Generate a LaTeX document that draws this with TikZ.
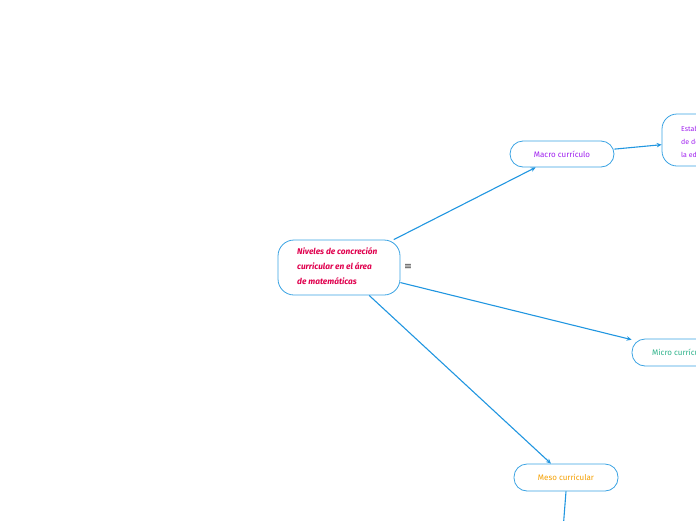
\documentclass[tikz,border=0pt]{standalone}
\usepackage{fontspec}
\setmainfont{Fira Sans}
\newfontfamily\symfont{DejaVu Sans}
\definecolor{lineblue}{HTML}{2196E0}
\definecolor{boxblue}{HTML}{3AA3E3}
\definecolor{maincol}{HTML}{E0004E}
\definecolor{macrocol}{HTML}{A020F0}
\definecolor{microcol}{HTML}{2DB38A}
\definecolor{mesocol}{HTML}{F5A000}
\tikzset{
  topicbox/.style={draw=boxblue, line width=0.8pt, rounded corners=13pt, fill=white, inner sep=0pt, font=\fontsize{8}{13}\selectfont},
  conn/.style={draw=lineblue, line width=1.1pt, -{Stealth[length=5pt,width=4.5pt]}},
  plainconn/.style={draw=lineblue, line width=1.1pt}
}
\usetikzlibrary{arrows.meta}
\begin{document}
\begin{tikzpicture}[x=1pt,y=-1pt]
\useasboundingbox (0,0) rectangle (696,520);
\clip (0,0) rectangle (696,520);
\node[topicbox, minimum width=122pt, minimum height=55pt, rounded corners=16pt] (main) at (339,267.5) {};
\node[anchor=west, align=left, text=maincol, font=\fontsize{8.3}{15}\selectfont\bfseries\itshape, inner sep=0pt] (maintxt) at (297,266) {Niveles de concreción\\curricular en el área\\de matemáticas};
\node[font=\symfont\fontsize{9.5}{9.5}\selectfont, text=black!80, inner sep=0pt] (menu) at (408,267) {≡};
\node[topicbox, minimum width=104pt, minimum height=26pt, text=macrocol] (macro) at (562,154) {Macro currículo};
\node[topicbox, minimum width=100pt, minimum height=52pt, rounded corners=15pt] (estab) at (712,140) {};
\node[anchor=west, align=left, text=macrocol, font=\fontsize{7}{13}\selectfont, inner sep=0pt] (estabtxt) at (681,142) {Establece las políticas\\de desarrollo de\\la educación};
\node[topicbox, minimum width=104pt, minimum height=27pt] (micro) at (684,352.5) {};
\node[anchor=west, text=microcol, font=\fontsize{8}{13}\selectfont, inner sep=0pt] (microtxt) at (652,352.5) {Micro currículo};
\node[topicbox, minimum width=104pt, minimum height=27pt, text=mesocol] (meso) at (566,477.5) {Meso curricular};
\coordinate (mesoend) at (563,530);
\draw[conn] (main) -- (macro);
\draw[conn] (macro) -- (estab);
\draw[conn] (main) -- (micro);
\draw[conn] (main) -- (meso);
\draw[plainconn] (meso.south) -- (mesoend);
\end{tikzpicture}
\end{document}
